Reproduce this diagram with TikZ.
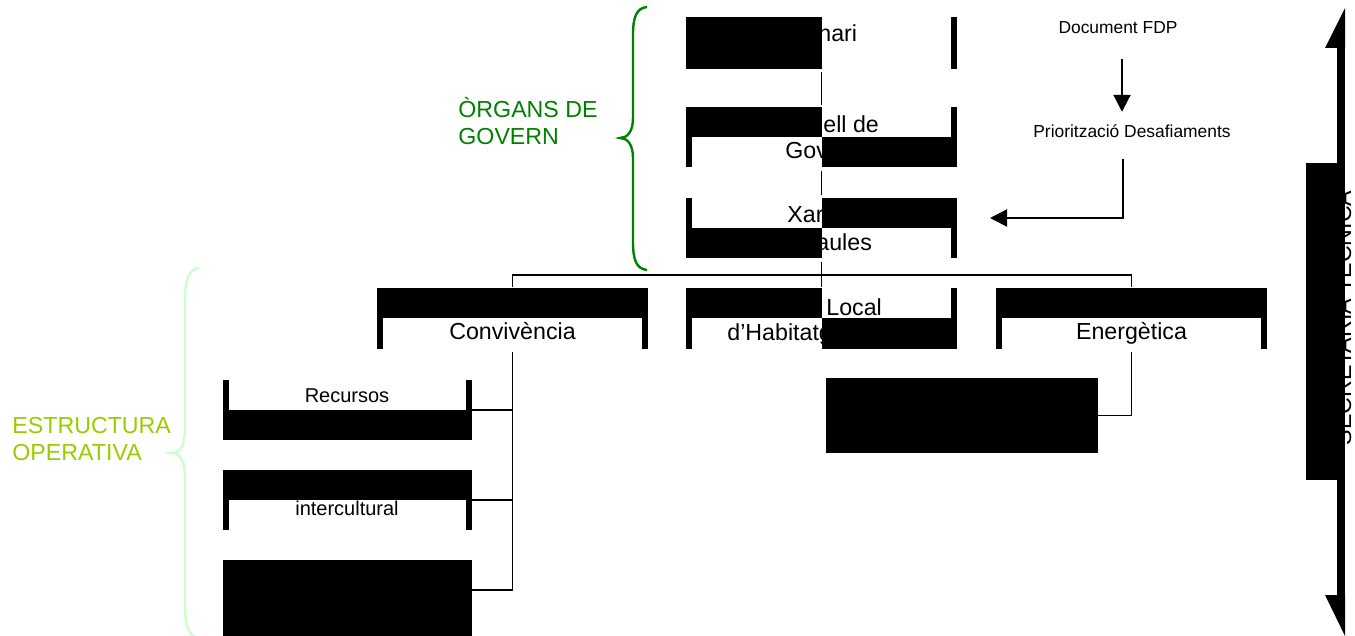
\documentclass[tikz,border=0pt]{standalone}
\usepackage{fontspec}
\setmainfont{Liberation Sans}
\usetikzlibrary{calc,arrows.meta}

\definecolor{govgreen}{HTML}{008000}
\definecolor{opgreen}{HTML}{99CC00}
\definecolor{bracegreen}{HTML}{CCFFCC}

\begin{document}
\begin{tikzpicture}[x=0.5pt,y=-0.5pt,
  orgbox/.style={inner sep=0pt, outer sep=0pt, minimum width=135.5pt, minimum height=#1},
  sidebox/.style={inner sep=0pt, outer sep=0pt, minimum width=124.5pt, minimum height=30pt},
  boxtext/.style={inner sep=0pt, font=\fontsize{11.6}{13.5}\selectfont},
  smalltext/.style={inner sep=0pt, font=\fontsize{10}{12}\selectfont},
  notetext/.style={inner sep=0pt, font=\fontsize{8.7}{10.5}\selectfont},
  link/.style={line width=0.8pt},
  arr/.style={line width=1pt, -{Triangle[length=8.5pt,width=8.5pt]}}]
\useasboundingbox (0,0) rectangle (1355,636);

%boxes
\node[orgbox=26pt] (plenari) at (821.5,43) {};
\node[orgbox=30pt] (consell) at (821.5,137) {};
\node[orgbox=30pt] (xarxa) at (821.5,228) {};
\node[orgbox=30.5pt] (local) at (821.5,318.5) {};
\node[orgbox=30.5pt] (conviv) at (512.5,318.5) {};
\node[orgbox=30.5pt] (energ) at (1131.5,318.5) {};
\node[sidebox] (recursos) at (347.5,410) {};
\node[sidebox] (intercult) at (347.5,500) {};
\node[sidebox] (mediacio) at (347.5,590) {};
\node[inner sep=0pt, minimum width=136pt, minimum height=37.5pt] (subenerg) at (962,415.5) {};

%texts
\node[boxtext, anchor=base west] (plenaritxt) at (818,42) {nari};
\node[boxtext, anchor=base west] (conselltxt) at (823,133) {ell de};
\node[boxtext, anchor=base west] (conselltxtb) at (785,159) {Gov};
\node[boxtext, anchor=base west] (xarxatxt) at (787,223) {Xar};
\node[boxtext, anchor=base west] (xarxatxtb) at (816,251) {aules};
\node[boxtext, anchor=base west] (localtxt) at (826,315) {Local};
\node[boxtext, anchor=base west] (localtxtb) at (727,341) {d’Habitatg};
\node[boxtext, anchor=base] (convivtxt) at (512.5,340) {Convivència};
\node[boxtext, anchor=base] (energtxt) at (1131.5,340) {Energètica};
\node[smalltext, anchor=base] (recursostxt) at (347,402) {Recursos};
\node[smalltext, anchor=base] (intercultxt) at (347,515) {intercultural};
\node[notetext, anchor=base] (fdp) at (1118,34) {Document FDP};
\node[notetext, anchor=base] (prio) at (1132,138) {Priorització Desafiaments};
\node[boxtext, rotate=90, anchor=base] (secre) at (1351,318) {SECRETARIA TÈCNICA};
\node[boxtext, govgreen, anchor=base west, align=left] (govlabel) at (458,145) {ÒRGANS DE\\GOVERN};
\node[boxtext, opgreen, anchor=base west, align=left] (oplabel) at (12,460) {ESTRUCTURA\\OPERATIVA};

%black parts
\fill (plenari.north west) rectangle (plenari.south);
\fill (consell.north west) rectangle (consell.center);
\fill (consell.center) rectangle (consell.south east);
\fill (xarxa.north) rectangle (xarxa.east);
\fill (xarxa.west) rectangle (xarxa.south);
\fill (local.north west) rectangle (local.center);
\fill (local.center) rectangle (local.south east);
\fill (conviv.north west) rectangle (conviv.east);
\fill (energ.north west) rectangle (energ.east);
\fill (recursos.west) rectangle (recursos.south east);
\fill (intercult.north west) rectangle (intercult.east);
\fill (mediacio.north west) rectangle ($(mediacio.south east)+(0,20)$);
\fill (subenerg.north west) rectangle (subenerg.south east);
\fill ($(plenari.north east)+(-6,0)$) rectangle (plenari.south east);
\foreach \b in {consell,xarxa,local,conviv,energ,recursos,intercult}{
  \fill (\b.north west) rectangle ($(\b.south west)+(6,0)$);
  \fill ($(\b.north east)+(-6,0)$) rectangle (\b.south east);
}
\fill (1306,163) rectangle (1337,480);

%connectors
\draw[link, shorten <=1.5pt, shorten >=1pt] (plenari) -- (consell);
\draw[link, shorten <=2pt, shorten >=1.5pt] (consell) -- (xarxa);
\draw[link, shorten <=2pt, shorten >=0.5pt] (xarxa) -- (local);
\draw[link, shorten <=0.7pt, shorten >=0.7pt] (conviv.north) -- ++(0,-13) -| (energ.north);
\draw[link, shorten >=1.5pt] (recursos.east) -| (conviv.south);
\draw[link, shorten >=1.5pt] (intercult.east) -| (conviv.south);
\draw[link, shorten >=1.5pt] (mediacio.east) -| (conviv.south);
\draw[link, shorten >=1.5pt] (subenerg.east) -| (energ.south);
\draw[arr, shorten <=12pt, shorten >=6.5pt] ($(fdp.south)+(4,0)$) -- ($(prio.north)+(-10,0)$);
\draw[arr, shorten <=10pt] ($(prio.south)+(-9,0)$) |- ($(xarxa.east)+(33,-10)$);

%secretaria arrow
\draw[line width=4pt] (1341,40) -- (1341,600);
\fill (1345,8) -- (1325,48) -- (1345,48) -- cycle;
\fill (1345,636) -- (1325,595) -- (1345,595) -- cycle;

%braces
\draw[govgreen, line width=1.2pt] (647,7) .. controls (636,8) and (633,18) .. (633,35) -- (633,118)
  .. controls (633,132) and (627,138) .. (620,138) .. controls (627,138) and (633,144) .. (633,158)
  -- (633,242) .. controls (633,259) and (636,269) .. (647,270);
\draw[bracegreen, line width=1.2pt] (199,268) .. controls (189,269) and (185,280) .. (185,300) -- (185,428)
  .. controls (185,445) and (180,453) .. (172,453) .. controls (180,453) and (185,461) .. (185,478)
  -- (185,606) .. controls (185,626) and (189,637) .. (199,638);
\end{tikzpicture}
\end{document}
